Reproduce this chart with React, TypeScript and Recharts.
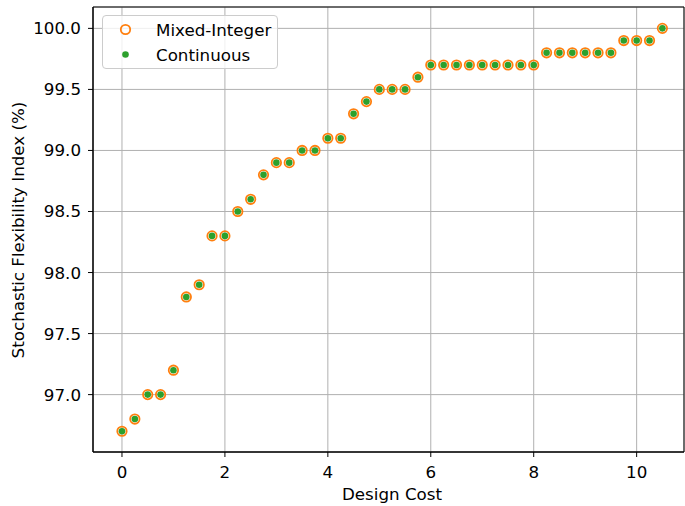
import React from 'react';
import { ScatterChart, Scatter, XAxis, YAxis, CartesianGrid, ReferenceArea } from 'recharts';

const designCost = [0, 0.25, 0.5, 0.75, 1, 1.25, 1.5, 1.75, 2, 2.25, 2.5, 2.75, 3, 3.25, 3.5, 3.75, 4, 4.25, 4.5, 4.75, 5, 5.25, 5.5, 5.75, 6, 6.25, 6.5, 6.75, 7, 7.25, 7.5, 7.75, 8, 8.25, 8.5, 8.75, 9, 9.25, 9.5, 9.75, 10, 10.25, 10.5];
const mixedInteger = [96.7, 96.8, 97.0, 97.0, 97.2, 97.8, 97.9, 98.3, 98.3, 98.5, 98.6, 98.8, 98.9, 98.9, 99.0, 99.0, 99.1, 99.1, 99.3, 99.4, 99.5, 99.5, 99.5, 99.6, 99.7, 99.7, 99.7, 99.7, 99.7, 99.7, 99.7, 99.7, 99.7, 99.8, 99.8, 99.8, 99.8, 99.8, 99.8, 99.9, 99.9, 99.9, 100.0];
const continuous = [96.7, 96.8, 97.0, 97.0, 97.2, 97.8, 97.9, 98.3, 98.3, 98.5, 98.6, 98.8, 98.9, 98.9, 99.0, 99.0, 99.1, 99.1, 99.3, 99.4, 99.5, 99.5, 99.5, 99.6, 99.7, 99.7, 99.7, 99.7, 99.7, 99.7, 99.7, 99.7, 99.7, 99.8, 99.8, 99.8, 99.8, 99.8, 99.8, 99.9, 99.9, 99.9, 100.0];
const xTicks = [0, 2, 4, 6, 8, 10];
const yTicks = [97.0, 97.5, 98.0, 98.5, 99.0, 99.5, 100.0];
const seriesNames = ['Mixed-Integer', 'Continuous'];

const mixedData = designCost.map((x, i) => ({ x, y: mixedInteger[i] }));
const contData = designCost.map((x, i) => ({ x, y: continuous[i] }));

const X_DOMAIN: [number, number] = [-0.563, 10.92];
const Y_DOMAIN: [number, number] = [96.53, 100.175];
const FONT = 'DejaVu Sans';
const FS = 16.7;
const ORANGE = '#ff7f0e';
const GREEN = '#2ca02c';

const MixedShape = (p: any) => (
  <circle cx={p.cx} cy={p.cy} r={4.7} fill="none" stroke={ORANGE} strokeWidth={1.8} />
);
const ContShape = (p: any) => (
  <circle cx={p.cx} cy={p.cy} r={3.3} fill={GREEN} stroke="none" />
);

const XTick = (p: any) => (
  <text x={p.x} y={p.y + 19} textAnchor="middle" fontFamily={FONT} fontSize={FS} fill="#000">
    {String(p.payload.value)}
  </text>
);
const YTick = (p: any) => (
  <text x={p.x - 5} y={p.y + 6} textAnchor="end" fontFamily={FONT} fontSize={FS} fill="#000">
    {Number(p.payload.value).toFixed(1)}
  </text>
);

const LegendBox = () => (
  <div
    style={{
      position: 'absolute',
      left: 102,
      top: 15,
      width: 176,
      height: 54,
      border: '1px solid #cccccc',
      borderRadius: 4,
      background: 'rgba(255,255,255,0.8)',
      boxSizing: 'border-box',
    }}
  >
    <svg width={176} height={54} style={{ position: 'absolute', left: -1, top: -1 }}>
      <circle cx={23.5} cy={14.5} r={4.7} fill="none" stroke={ORANGE} strokeWidth={1.8} />
      <circle cx={23.5} cy={39.5} r={3.3} fill={GREEN} />
      <text x={54} y={20.5} fontFamily={FONT} fontSize={FS} fill="#000">{seriesNames[0]}</text>
      <text x={54} y={45.5} fontFamily={FONT} fontSize={FS} fill="#000">{seriesNames[1]}</text>
    </svg>
  </div>
);

export default function App() {
  return (
    <div style={{ position: 'absolute', left: 0, top: 0, width: 685, height: 506, background: '#fff' }}>
      <ScatterChart width={685} height={506} margin={{ top: 7, right: 1, bottom: 0, left: 0 }}>
        <CartesianGrid stroke="#b0b0b0" strokeWidth={1} />
        <XAxis
          type="number"
          dataKey="x"
          domain={X_DOMAIN}
          ticks={xTicks}
          allowDataOverflow
          height={54}
          axisLine={{ stroke: '#000', strokeWidth: 1 }}
          tickLine={{ stroke: '#000' }}
          tickSize={5}
          tick={<XTick />}
          label={{
            content: () => (
              <text x={392} y={500} textAnchor="middle" fontFamily={FONT} fontSize={FS} fill="#000">
                Design Cost
              </text>
            ),
          }}
        />
        <YAxis
          type="number"
          dataKey="y"
          domain={Y_DOMAIN}
          ticks={yTicks}
          allowDataOverflow
          width={93}
          axisLine={{ stroke: '#000', strokeWidth: 1 }}
          tickLine={{ stroke: '#000' }}
          tickSize={5}
          tick={<YTick />}
          label={{
            content: () => (
              <text
                x={24}
                y={230}
                transform="rotate(-90 24 230)"
                textAnchor="middle"
                fontFamily={FONT}
                fontSize={FS}
                fill="#000"
              >
                Stochastic Flexibility Index (%)
              </text>
            ),
          }}
        />
        <ReferenceArea
          x1={X_DOMAIN[0]}
          x2={X_DOMAIN[1]}
          y1={Y_DOMAIN[0]}
          y2={Y_DOMAIN[1]}
          fill="#ffffff"
          fillOpacity={0}
          stroke="#000"
          strokeOpacity={1}
          strokeWidth={1}
          ifOverflow="visible"
        />
        <Scatter name={seriesNames[0]} data={mixedData} shape={MixedShape} isAnimationActive={false} />
        <Scatter name={seriesNames[1]} data={contData} shape={ContShape} isAnimationActive={false} />
      </ScatterChart>
      <LegendBox />
    </div>
  );
}
